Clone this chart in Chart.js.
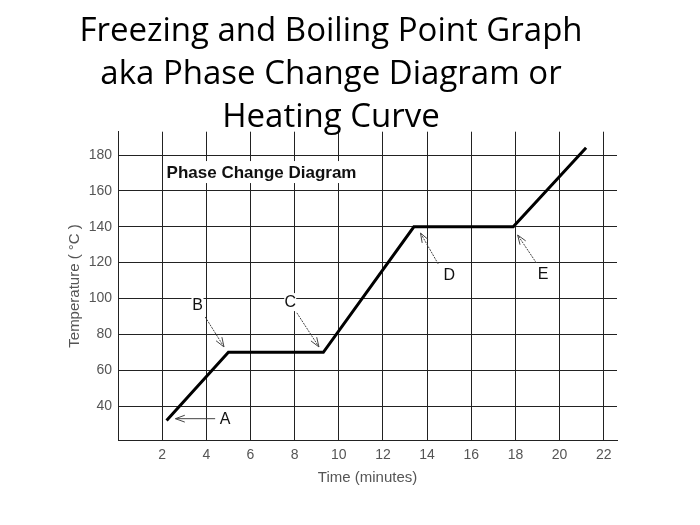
<!DOCTYPE html>
<html>
<head>
<meta charset="utf-8">
<script src="https://cdn.jsdelivr.net/npm/chart.js@4"></script>
<style>
  html, body { margin: 0; padding: 0; background: #fff; }
  #wrap { width: 700px; height: 525px; }
</style>
</head>
<body>
<div id="wrap"><canvas id="phaseChart" width="700" height="525"></canvas></div>
<script>
// heating curve corners (time in minutes, temperature in °C)
const timeValues = [2.2, 5.0, 9.3, 13.4, 17.9, 21.2];
const tempValues = [32, 70, 70, 140, 140, 184];
const xTicks = [2, 4, 6, 8, 10, 12, 14, 16, 18, 20, 22];
const yTicks = [40, 60, 80, 100, 120, 140, 160, 180];
const titleLines = ["Freezing and Boiling Point Graph", "aka Phase Change Diagram or", "Heating Curve"];

// letter labels and the arrows pointing at the curve (data units)
const labelNames = ["A", "B", "C", "D", "E"];
const labelPos = [[4.85, 33], [3.6, 96.5], [7.8, 98], [15.0, 113.5], [19.25, 114]];
const arrowFrom = [[4.4, 33], [3.95, 89.7], [8.1, 92], [14.5, 119.3], [18.95, 119.8]];
const arrowTo = [[2.6, 33], [4.8, 73], [9.1, 73], [13.7, 136.5], [18.1, 135.4]];

const annotations = {
    id: "annotations",
    afterDatasetsDraw(chart) {
        const ctx = chart.ctx;
        const xs = chart.scales.x;
        const ys = chart.scales.y;
        ctx.save();

        // boxed caption
        ctx.font = "bold 17px 'Liberation Sans', Arial, sans-serif";
        const cap = "Phase Change Diagram";
        const cx = xs.getPixelForValue(2.2);
        const cy = ys.getPixelForValue(170.5);
        const w = ctx.measureText(cap).width;
        ctx.fillStyle = "#fff";
        ctx.fillRect(cx - 3, cy - 11, w + 6, 22);
        ctx.fillStyle = "#111";
        ctx.textBaseline = "middle";
        ctx.textAlign = "left";
        ctx.fillText(cap, cx, cy + 1);

        // letters
        ctx.font = "16px 'Liberation Sans', Arial, sans-serif";
        ctx.textAlign = "center";
        labelNames.forEach((name, i) => {
            const px = xs.getPixelForValue(labelPos[i][0]);
            const py = ys.getPixelForValue(labelPos[i][1]);
            ctx.fillStyle = "#fff";
            ctx.fillRect(px - 6, py - 9, 12, 18);
            ctx.fillStyle = "#111";
            ctx.fillText(name, px, py + 1);
        });

        // arrows
        ctx.strokeStyle = "#444";
        ctx.lineWidth = 1;
        labelNames.forEach((name, i) => {
            const x1 = xs.getPixelForValue(arrowFrom[i][0]);
            const y1 = ys.getPixelForValue(arrowFrom[i][1]);
            const x2 = xs.getPixelForValue(arrowTo[i][0]);
            const y2 = ys.getPixelForValue(arrowTo[i][1]);
            ctx.setLineDash(i === 0 ? [] : [2, 1]);
            ctx.beginPath();
            ctx.moveTo(x1, y1);
            ctx.lineTo(x2, y2);
            ctx.stroke();
            ctx.setLineDash([]);
            const a = Math.atan2(y1 - y2, x1 - x2);
            ctx.beginPath();
            ctx.moveTo(x2 + 10 * Math.cos(a - 0.35), y2 + 10 * Math.sin(a - 0.35));
            ctx.lineTo(x2, y2);
            ctx.lineTo(x2 + 10 * Math.cos(a + 0.35), y2 + 10 * Math.sin(a + 0.35));
            ctx.stroke();
        });
        ctx.restore();
    }
};

const ctx = document.getElementById("phaseChart").getContext("2d");
new Chart(ctx, {
    type: "line",
    data: {
        datasets: [{
            data: timeValues.map((t, i) => ({ x: t, y: tempValues[i] })),
            borderColor: "#000",
            borderWidth: 3,
            pointRadius: 0,
            tension: 0,
            fill: false
        }]
    },
    options: {
        responsive: false,
        animation: false,
        layout: { padding: { left: 45, right: 83, top: 0, bottom: 38 } },
        plugins: {
            legend: { display: false },
            tooltip: { enabled: false },
            title: {
                display: true,
                text: titleLines,
                color: "#000",
                font: { family: "'Open Sans', 'Noto Sans', sans-serif", size: 33, weight: "normal", lineHeight: 1.3 },
                padding: { top: 10, bottom: -7 }
            }
        },
        scales: {
            x: {
                type: "linear",
                min: 0,
                max: 22.6,
                afterBuildTicks: (s) => { s.ticks = xTicks.map(v => ({ value: v })); },
                ticks: { color: "#555", font: { family: "'Liberation Sans', Arial", size: 14 }, padding: 7, maxRotation: 0 },
                grid: { color: "#222", lineWidth: 1, drawTicks: false },
                border: { color: "#222", width: 1 },
                title: { display: true, text: "Time (minutes)", color: "#555", font: { family: "'Liberation Sans', Arial", size: 15 }, padding: { top: -2, bottom: 0 } }
            },
            y: {
                min: 21,
                max: 193,
                afterBuildTicks: (s) => { s.ticks = yTicks.map(v => ({ value: v })); },
                afterFit: (s) => { s.width = 73; },
                ticks: { color: "#555", font: { family: "'Liberation Sans', Arial", size: 14 }, padding: 6 },
                grid: { color: "#222", lineWidth: 1, drawTicks: false },
                border: { color: "#222", width: 1 },
                title: { display: true, text: "Temperature ( °C )", color: "#555", font: { family: "'Liberation Sans', Arial", size: 15 }, padding: { top: 21, bottom: 0 } }
            }
        }
    },
    plugins: [annotations]
});
</script>
</body>
</html>
